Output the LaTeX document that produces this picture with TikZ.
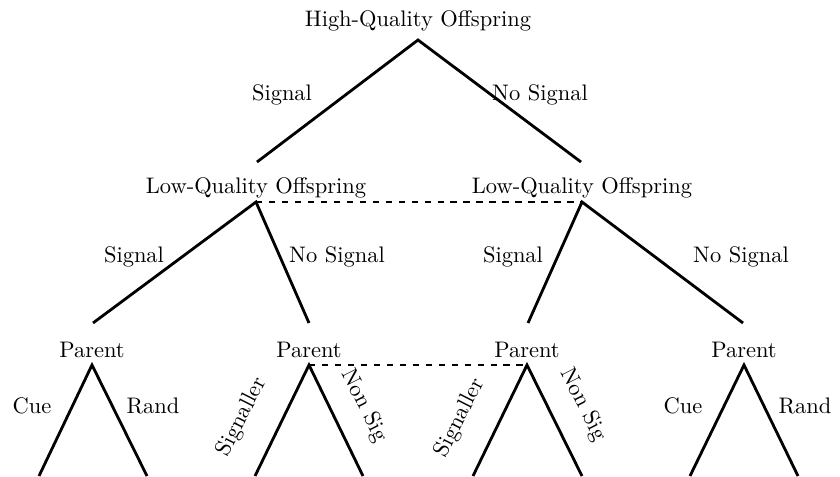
\documentclass[tikz,border=0pt]{standalone}
\begin{document}
\begin{tikzpicture}[x=0.01627cm, y=-0.01627cm,
  every node/.style={scale=1.04},
  branch/.style={line width=1.3pt},
  infoset/.style={dashed, line width=0.6pt}]
\useasboundingbox (0,0) rectangle (840,476);
% offspring nodes
\node (hq) at (418,21) {High-Quality Offspring};
\node (lqa) at (256,188) {Low-Quality Offspring};
\node (lqb) at (582,188) {Low-Quality Offspring};
\coordinate (hqv) at (418,40);
\coordinate (lqain) at (257,162);
\coordinate (lqbin) at (581,162);
\coordinate (lqav) at (256,202);
\coordinate (lqbv) at (582,202);
% parent nodes
\node (pa) at (92,350) {Parent};
\node (pb) at (309,350) {Parent};
\node (pc) at (527,350) {Parent};
\node (pd) at (744,350) {Parent};
\coordinate (pain) at (93,323);
\coordinate (pbin) at (309,323);
\coordinate (pcin) at (528,323);
\coordinate (pdin) at (743,323);
\coordinate (pav) at (92,365);
\coordinate (pbv) at (309,365);
\coordinate (pcv) at (527,365);
\coordinate (pdv) at (744,365);
% leaves
\coordinate (a1) at (39,476);
\coordinate (a2) at (147,476);
\coordinate (b1) at (255,476);
\coordinate (b2) at (363,476);
\coordinate (c1) at (473,476);
\coordinate (c2) at (582,476);
\coordinate (d1) at (690,476);
\coordinate (d2) at (798,476);
% branches
\draw[branch] (lqain) -- (hqv) -- (lqbin);
\draw[branch] (pain) -- (lqav) -- (pbin);
\draw[branch] (pcin) -- (lqbv) -- (pdin);
\draw[branch] (a1) -- (pav) -- (a2);
\draw[branch] (b1) -- (pbv) -- (b2);
\draw[branch] (c1) -- (pcv) -- (c2);
\draw[branch] (d1) -- (pdv) -- (d2);
% information sets
\draw[infoset] (lqav) -- (lqbv);
\draw[infoset] (pbv) -- (pcv);
% branch labels
\node (s0) at (282,95) {Signal};
\node (n0) at (540,95) {No Signal};
\node (s1) at (134,257) {Signal};
\node (n1) at (337,257) {No Signal};
\node (s2) at (513,257) {Signal};
\node (n2) at (741,257) {No Signal};
\node (cua) at (32,406) {Cue};
\node (raa) at (153,406) {Rand};
\node[rotate=63] (sga) at (242,417) {Signaller};
\node[rotate=-63] (nsa) at (364,406) {Non Sig};
\node[rotate=63] (sgb) at (460,418) {Signaller};
\node[rotate=-63] (nsb) at (583,405) {Non Sig};
\node (cud) at (683,406) {Cue};
\node (rad) at (805,406) {Rand};
\end{tikzpicture}
\end{document}
